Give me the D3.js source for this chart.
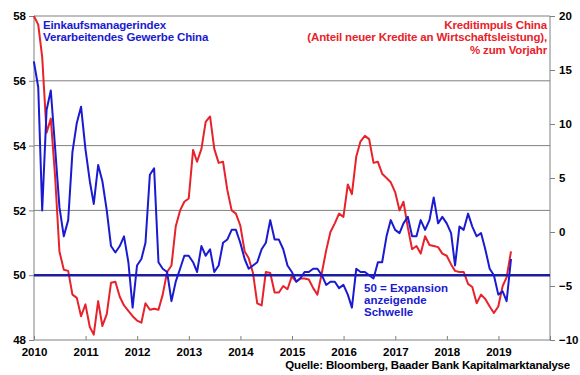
<!DOCTYPE html>
<html>
<head>
<meta charset="utf-8">
<script src="https://cdn.jsdelivr.net/npm/d3@7"></script>
<style>
  body { margin: 0; background: #fff; }
  svg text { font-family: "Liberation Sans", Arial, sans-serif; font-weight: bold; }
</style>
</head>
<body>
<div id="vizcontainer"></div>
<script>
const
  width = 580,
  height = 375,
  margin = { top: 16, right: 30, bottom: 35, left: 34 }
  ;

// monthly, month-end, first value = Dec 2009, last = Mar 2019
const firstMonth = new Date(2009, 11, 31);

const pmi = [
  56.6,
  55.8, 52.0, 55.1, 55.7, 53.9, 52.1, 51.2, 51.7, 53.8, 54.7, 55.2, 53.9,
  52.9, 52.2, 53.4, 52.9, 52.0, 50.9, 50.7, 50.9, 51.2, 50.4, 49.0, 50.3,
  50.5, 51.0, 53.1, 53.3, 50.4, 50.2, 50.1, 49.2, 49.8, 50.2, 50.6, 50.6,
  50.4, 50.1, 50.9, 50.6, 50.8, 50.1, 50.3, 51.0, 51.1, 51.4, 51.4, 51.0,
  50.5, 50.2, 50.3, 50.4, 50.8, 51.0, 51.7, 51.1, 51.1, 50.8, 50.3, 50.1,
  49.8, 49.9, 50.1, 50.1, 50.2, 50.2, 50.0, 49.7, 49.8, 49.8, 49.6, 49.7,
  49.4, 49.0, 50.2, 50.1, 50.1, 50.0, 49.9, 50.4, 50.4, 51.2, 51.7, 51.4,
  51.3, 51.6, 51.8, 51.2, 51.2, 51.7, 51.4, 51.7, 52.4, 51.6, 51.8, 51.6,
  51.3, 50.3, 51.5, 51.4, 51.9, 51.5, 51.2, 51.3, 50.8, 50.2, 50.0, 49.4,
  49.5, 49.2, 50.5
];

const creditImpulse = [
  20.0,
  19.2, 16.2, 9.2, 10.5, 5.0, -1.8, -3.5, -3.6, -5.8, -6.1, -7.8, -6.7,
  -8.8, -9.5, -6.4, -8.7, -7.6, -4.7, -4.6, -6.0, -6.8, -7.3, -7.8, -8.2,
  -8.4, -6.6, -7.2, -7.1, -7.2, -5.8, -3.7, -3.1, 0.5, 2.0, 2.8, 3.1,
  7.6, 6.5, 7.7, 10.2, 10.7, 7.7, 6.4, 6.5, 3.9, 2.0, 1.7, 0.6,
  -1.8, -2.4, -3.8, -6.6, -6.8, -3.7, -3.8, -5.6, -5.6, -5.0, -5.3, -4.1,
  -4.6, -4.3, -4.3, -4.4, -5.2, -5.8, -3.8, -1.7, 0.0, 0.8, 1.7, 1.4,
  4.4, 3.5, 7.0, 8.4, 8.9, 8.6, 6.4, 6.5, 5.4, 5.0, 4.6, 3.7,
  2.0, 2.8, 0.4, -1.6, -1.3, -2.0, -0.4, -1.2, -1.3, -1.4, -2.0, -2.2,
  -3.0, -3.6, -3.7, -3.7, -4.8, -5.1, -6.6, -5.8, -6.2, -6.9, -7.5, -6.9,
  -5.0, -4.2, -1.8
];

const yearTicks = [2010, 2011, 2012, 2013, 2014, 2015, 2016, 2017, 2018, 2019, 2020];
const yearLabels = [2010, 2011, 2012, 2013, 2014, 2015, 2016, 2017, 2018, 2019];
const leftTicks = [48, 50, 52, 54, 56, 58];
const rightTicks = [-10, -5, 0, 5, 10, 15, 20];
const threshold = 50;

const blueLegend = ['Einkaufsmanagerindex', 'Verarbeitendes Gewerbe China'];
const redLegend = ['Kreditimpuls China', '(Anteil neuer Kredite an Wirtschaftsleistung),', '% zum Vorjahr'];
const noteLines = ['50 = Expansion', 'anzeigende', 'Schwelle'];
const source = 'Quelle: Bloomberg, Baader Bank Kapitalmarktanalyse';

const
  blue = '#1a1ad0',
  navy = '#1c1ca0',
  red = '#e8222a',
  grid = '#808080'
  ;

const monthDate = i => new Date(firstMonth.getFullYear(), firstMonth.getMonth() + i + 1, 0);

let xScale = d3.scaleTime()
  .domain([new Date(2010, 0, 1), new Date(2020, 0, 1)])
  .range([margin.left, width - margin.right]);

let yLeft = d3.scaleLinear()
  .domain([48, 58])
  .range([height - margin.bottom, margin.top]);

let yRight = d3.scaleLinear()
  .domain([-10, 20])
  .range([height - margin.bottom, margin.top]);

let viz = d3.select('#vizcontainer')
  .append('svg')
  .attr('width', width)
  .attr('height', height);

// gridlines
viz.append('g')
  .selectAll('line')
  .data(leftTicks.filter(d => d > 48 && d != threshold))
  .join('line')
  .attr('x1', margin.left)
  .attr('x2', width - margin.right)
  .attr('y1', d => yLeft(d))
  .attr('y2', d => yLeft(d))
  .attr('stroke', grid)
  .attr('stroke-width', 1);

// axes
let leftAxis = viz.append('g')
  .attr('transform', `translate(${margin.left},0)`)
  .call(d3.axisLeft(yLeft).tickValues(leftTicks).tickSize(5).tickPadding(3));

let rightAxis = viz.append('g')
  .attr('transform', `translate(${width - margin.right},0)`)
  .call(d3.axisRight(yRight).tickValues(rightTicks).tickSize(5).tickPadding(4));

let bottomAxis = viz.append('g')
  .attr('transform', `translate(0,${height - margin.bottom})`)
  .call(d3.axisBottom(xScale)
    .tickValues(yearTicks.map(y => new Date(y, 0, 1)))
    .tickSize(-4)
    .tickPadding(6)
    .tickFormat(d => yearLabels.includes(d.getFullYear()) ? d.getFullYear() : ''));

[leftAxis, rightAxis, bottomAxis].forEach(a => {
  a.selectAll('.domain').attr('stroke', grid);
  a.selectAll('.tick line').attr('stroke', grid);
  a.selectAll('text').attr('font-size', 11.5).attr('fill', '#000');
});
leftAxis.selectAll('.domain').attr('d', `M0,${margin.top}V${height - margin.bottom}`);
rightAxis.selectAll('.domain').attr('d', `M0,${margin.top}V${height - margin.bottom}`);
bottomAxis.selectAll('.domain').attr('d', `M${margin.left},0H${width - margin.right}`);
bottomAxis.selectAll('text').attr('dy', '0.85em');

// series
let redLine = d3.line()
  .x((d, i) => xScale(monthDate(i)))
  .y(d => yRight(d));

let blueLine = d3.line()
  .x((d, i) => xScale(monthDate(i)))
  .y(d => yLeft(d));

viz.append('path')
  .datum(creditImpulse)
  .attr('d', redLine)
  .attr('fill', 'none')
  .attr('stroke', red)
  .attr('stroke-width', 2)
  .attr('stroke-linejoin', 'round');

viz.append('line')
  .attr('x1', margin.left)
  .attr('x2', width - margin.right)
  .attr('y1', yLeft(threshold))
  .attr('y2', yLeft(threshold))
  .attr('stroke', navy)
  .attr('stroke-width', 2.5);

viz.append('path')
  .datum(pmi)
  .attr('d', blueLine)
  .attr('fill', 'none')
  .attr('stroke', blue)
  .attr('stroke-width', 2)
  .attr('stroke-linejoin', 'round');

// texts
viz.append('g')
  .selectAll('text')
  .data(blueLegend)
  .join('text')
  .attr('x', 43)
  .attr('y', (d, i) => 29 + i * 12)
  .attr('font-size', 11.5)
  .attr('letter-spacing', -0.15)
  .attr('fill', blue)
  .text(d => d);

viz.append('g')
  .selectAll('text')
  .data(redLegend)
  .join('text')
  .attr('x', 547)
  .attr('y', (d, i) => 29 + i * 12.3)
  .attr('text-anchor', 'end')
  .attr('font-size', 11.5)
  .attr('letter-spacing', -0.15)
  .attr('fill', red)
  .text(d => d);

viz.append('g')
  .selectAll('text')
  .data(noteLines)
  .join('text')
  .attr('x', 364)
  .attr('y', (d, i) => 292 + i * 12)
  .attr('font-size', 11.5)
  .attr('fill', blue)
  .text(d => d);

viz.append('text')
  .attr('x', 570)
  .attr('y', 369)
  .attr('text-anchor', 'end')
  .attr('font-size', 11.5)
  .attr('letter-spacing', -0.2)
  .attr('fill', '#000')
  .text(source);
</script>
</body>
</html>
